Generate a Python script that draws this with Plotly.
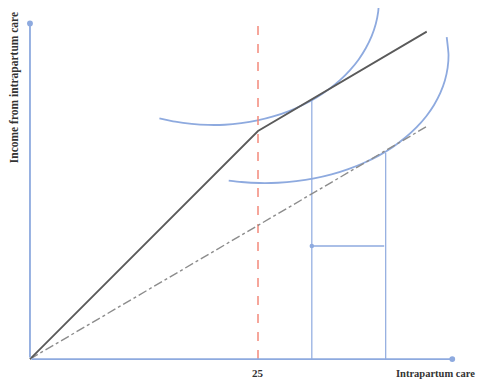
import plotly.graph_objects as go

# ---- data ----
income_x = [0, 25, 43.5]
income_y = [0, 25, 35.9]

ref_x = [0, 43.5]
ref_y = [0, 25.5]

threshold_x = 25
threshold_top = 37.2

ic_high_x = [14.19, 15.93, 17.73, 19.54, 21.36, 23.16, 24.94, 26.67, 28.33, 29.90,
             31.38, 32.75, 33.99, 35.09, 36.04, 36.83, 37.46, 37.91, 38.18, 38.27]
ic_high_y = [26.40, 26.02, 25.78, 25.67, 25.69, 25.86, 26.16, 26.60, 27.16, 27.85,
             28.65, 29.57, 30.58, 31.68, 32.85, 34.10, 35.40, 36.73, 38.10, 39.48]

ic_low_x = [21.79, 23.18, 25.18, 27.19, 29.19, 31.15, 33.06, 34.90, 36.64, 38.28,
            39.79, 41.16, 42.37, 43.43, 44.30, 44.99, 45.49, 45.79, 45.89, 45.69]
ic_low_y = [19.57, 19.41, 19.30, 19.33, 19.50, 19.80, 20.24, 20.82, 21.52, 22.33,
            23.26, 24.29, 25.40, 26.60, 27.86, 29.18, 30.54, 31.93, 33.33, 35.29]

tangent_x = [30.9, 39.0]
tangent_y = [28.4, 22.6]
shift_y = 12.4

x_axis_end = 46.3
y_axis_end = 36.8

tick_label = "25"
x_title = "Intrapartum care"
y_title = "Income from intrapartum care"

BLUE = "#8eaadf"
TEXT = "#333333"
FONT = "Liberation Serif"

fig = go.Figure()

# indifference curves
for cx, cy in [(ic_high_x, ic_high_y), (ic_low_x, ic_low_y)]:
    fig.add_trace(go.Scatter(x=cx, y=cy, mode="lines",
                             line=dict(color=BLUE, width=1.8, shape="spline", smoothing=0.6),
                             hoverinfo="skip"))

# vertical drop lines from tangency points
for tx, ty in zip(tangent_x, tangent_y):
    fig.add_trace(go.Scatter(x=[tx, tx], y=[0, ty], mode="lines",
                             line=dict(color=BLUE, width=1.2), hoverinfo="skip"))

# threshold line
fig.add_trace(go.Scatter(x=[threshold_x, threshold_x], y=[0, threshold_top], mode="lines",
                         line=dict(color="#f4897b", width=1.5, dash="dash"),
                         hoverinfo="skip"))

# reference (dash-dot) line
fig.add_trace(go.Scatter(x=ref_x, y=ref_y, mode="lines",
                         line=dict(color="#8c8c8c", width=1.4, dash="dashdot"),
                         hoverinfo="skip"))

# income line
fig.add_trace(go.Scatter(x=income_x, y=income_y, mode="lines",
                         line=dict(color="#5a5a5a", width=1.8),
                         hoverinfo="skip"))

annotations = [
    # axes with arrow heads
    dict(x=x_axis_end, y=0, ax=0, ay=0, xref="x", yref="y", axref="x", ayref="y",
         showarrow=True, arrowhead=6, arrowsize=0.8, arrowwidth=1.8, arrowcolor=BLUE, text=""),
    dict(x=0, y=y_axis_end, ax=0, ay=0, xref="x", yref="y", axref="x", ayref="y",
         showarrow=True, arrowhead=6, arrowsize=0.8, arrowwidth=1.8, arrowcolor=BLUE, text=""),
    # shift arrow
    dict(x=tangent_x[0], y=shift_y, ax=tangent_x[1], ay=shift_y, xref="x", yref="y",
         axref="x", ayref="y", showarrow=True, arrowhead=6, arrowsize=0.8,
         arrowwidth=1.4, arrowcolor=BLUE, text=""),
    # labels
    dict(x=threshold_x, y=-1.55, xref="x", yref="y", text="<b>" + tick_label + "</b>",
         showarrow=False, font=dict(family=FONT, size=11, color=TEXT)),
    dict(x=49.0, y=-1.55, xref="x", yref="y", xanchor="right", text="<b>" + x_title + "</b>",
         showarrow=False, font=dict(family=FONT, size=10.5, color=TEXT)),
    dict(x=-1.75, y=29.7, xref="x", yref="y", text="<b>" + y_title + "</b>",
         textangle=-90, showarrow=False, font=dict(family=FONT, size=11.5, color=TEXT)),
]

# the page body has an 8px margin; keep the page inside the 487x387 window
fig.update_layout(
    width=471, height=371,
    margin=dict(l=0, r=0, t=0, b=0),
    paper_bgcolor="white", plot_bgcolor="white",
    showlegend=False,
    xaxis=dict(range=[-2.41, 49.23], visible=False, fixedrange=True),
    yaxis=dict(range=[-2.19, 38.49], visible=False, fixedrange=True),
    annotations=annotations,
)

fig.write_html("out.html")
